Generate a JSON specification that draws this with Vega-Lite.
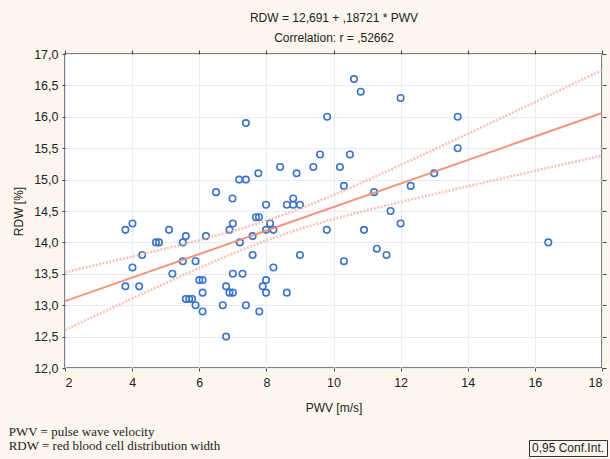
{
  "$schema": "https://vega.github.io/schema/vega-lite/v6.json",
  "width": 537,
  "height": 314,
  "autosize": "none",
  "padding": {"left": 65, "top": 54, "right": 8, "bottom": 91},
  "background": "#fdf6ee",
  "config": {
    "view": {"fill": "white", "stroke": "#505a64", "strokeWidth": 1.5},
    "font": "Liberation Sans",
    "axis": {"labelFont": "Liberation Sans", "titleFont": "Liberation Sans", "labelColor": "#222", "titleColor": "#222", "labelFontSize": 12, "titleFontSize": 12, "titleFontWeight": "normal", "tickColor": "#444", "domain": false}
  },
  "title": {
    "text": ["PWV = pulse wave velocity", "RDW = red blood cell distribution width"],
    "orient": "bottom", "anchor": "start", "frame": "bounds",
    "font": "Liberation Serif", "fontSize": 13, "fontWeight": "normal", "color": "#222",
    "lineHeight": 14, "offset": -31, "dx": -4
  },
  "datasets": {
    "pts": [
      {"pwv": 7.39, "rdw": 15.9}, {"pwv": 7.76, "rdw": 15.1}, {"pwv": 7.19, "rdw": 15.0}, {"pwv": 7.39, "rdw": 15.0},
      {"pwv": 6.5, "rdw": 14.8}, {"pwv": 6.99, "rdw": 14.7}, {"pwv": 3.8, "rdw": 14.2}, {"pwv": 4.01, "rdw": 14.3},
      {"pwv": 5.1, "rdw": 14.2}, {"pwv": 4.71, "rdw": 14.0}, {"pwv": 4.8, "rdw": 14.0}, {"pwv": 5.6, "rdw": 14.1},
      {"pwv": 5.51, "rdw": 14.0}, {"pwv": 6.2, "rdw": 14.1}, {"pwv": 6.9, "rdw": 14.2}, {"pwv": 7.0, "rdw": 14.3},
      {"pwv": 7.69, "rdw": 14.4}, {"pwv": 7.78, "rdw": 14.4}, {"pwv": 4.3, "rdw": 13.8}, {"pwv": 7.21, "rdw": 14.0},
      {"pwv": 7.59, "rdw": 14.1}, {"pwv": 7.59, "rdw": 13.8}, {"pwv": 4.01, "rdw": 13.6}, {"pwv": 5.51, "rdw": 13.7},
      {"pwv": 5.89, "rdw": 13.7}, {"pwv": 5.2, "rdw": 13.5}, {"pwv": 6.0, "rdw": 13.4}, {"pwv": 6.1, "rdw": 13.4},
      {"pwv": 7.0, "rdw": 13.5}, {"pwv": 7.29, "rdw": 13.5}, {"pwv": 3.8, "rdw": 13.3}, {"pwv": 4.21, "rdw": 13.3},
      {"pwv": 6.8, "rdw": 13.3}, {"pwv": 6.9, "rdw": 13.2}, {"pwv": 7.0, "rdw": 13.2}, {"pwv": 6.1, "rdw": 13.2},
      {"pwv": 5.6, "rdw": 13.1}, {"pwv": 5.7, "rdw": 13.1}, {"pwv": 5.79, "rdw": 13.1}, {"pwv": 5.89, "rdw": 13.0},
      {"pwv": 6.1, "rdw": 12.9}, {"pwv": 6.7, "rdw": 13.0}, {"pwv": 7.39, "rdw": 13.0}, {"pwv": 7.79, "rdw": 12.9},
      {"pwv": 6.8, "rdw": 12.5}, {"pwv": 10.61, "rdw": 16.6}, {"pwv": 10.81, "rdw": 16.4}, {"pwv": 12.0, "rdw": 16.3},
      {"pwv": 9.81, "rdw": 16.0}, {"pwv": 9.6, "rdw": 15.4}, {"pwv": 10.49, "rdw": 15.4}, {"pwv": 8.41, "rdw": 15.2},
      {"pwv": 9.4, "rdw": 15.2}, {"pwv": 10.19, "rdw": 15.2}, {"pwv": 8.9, "rdw": 15.1}, {"pwv": 13.0, "rdw": 15.1},
      {"pwv": 10.31, "rdw": 14.9}, {"pwv": 12.3, "rdw": 14.9}, {"pwv": 11.21, "rdw": 14.8}, {"pwv": 8.8, "rdw": 14.7},
      {"pwv": 7.99, "rdw": 14.6}, {"pwv": 8.61, "rdw": 14.6}, {"pwv": 8.8, "rdw": 14.6}, {"pwv": 9.0, "rdw": 14.6},
      {"pwv": 11.7, "rdw": 14.5}, {"pwv": 8.11, "rdw": 14.3}, {"pwv": 7.99, "rdw": 14.2}, {"pwv": 8.21, "rdw": 14.2},
      {"pwv": 9.8, "rdw": 14.2}, {"pwv": 10.91, "rdw": 14.2}, {"pwv": 12.0, "rdw": 14.3}, {"pwv": 11.29, "rdw": 13.9},
      {"pwv": 11.58, "rdw": 13.8}, {"pwv": 9.0, "rdw": 13.8}, {"pwv": 10.31, "rdw": 13.7}, {"pwv": 8.21, "rdw": 13.6},
      {"pwv": 7.99, "rdw": 13.4}, {"pwv": 7.89, "rdw": 13.3}, {"pwv": 7.99, "rdw": 13.2}, {"pwv": 8.61, "rdw": 13.2},
      {"pwv": 13.7, "rdw": 16.0}, {"pwv": 13.7, "rdw": 15.5}, {"pwv": 16.4, "rdw": 14.0}
    ],
    "fit": [{"pwv": 2, "rdw": 13.065}, {"pwv": 18, "rdw": 16.061}],
    "band": [
      {"pwv": 2, "rdw": 13.525, "bound": "upper"}, {"pwv": 3, "rdw": 13.649, "bound": "upper"},
      {"pwv": 4, "rdw": 13.774, "bound": "upper"}, {"pwv": 5, "rdw": 13.902, "bound": "upper"},
      {"pwv": 6, "rdw": 14.035, "bound": "upper"}, {"pwv": 7, "rdw": 14.179, "bound": "upper"},
      {"pwv": 8, "rdw": 14.344, "bound": "upper"}, {"pwv": 9, "rdw": 14.536, "bound": "upper"},
      {"pwv": 10, "rdw": 14.754, "bound": "upper"}, {"pwv": 11, "rdw": 14.988, "bound": "upper"},
      {"pwv": 12, "rdw": 15.232, "bound": "upper"}, {"pwv": 13, "rdw": 15.48, "bound": "upper"},
      {"pwv": 14, "rdw": 15.729, "bound": "upper"}, {"pwv": 15, "rdw": 15.981, "bound": "upper"},
      {"pwv": 16, "rdw": 16.233, "bound": "upper"}, {"pwv": 17, "rdw": 16.487, "bound": "upper"},
      {"pwv": 18, "rdw": 16.741, "bound": "upper"},
      {"pwv": 2, "rdw": 12.605, "bound": "lower"}, {"pwv": 3, "rdw": 12.857, "bound": "lower"},
      {"pwv": 4, "rdw": 13.106, "bound": "lower"}, {"pwv": 5, "rdw": 13.352, "bound": "lower"},
      {"pwv": 6, "rdw": 13.593, "bound": "lower"}, {"pwv": 7, "rdw": 13.823, "bound": "lower"},
      {"pwv": 8, "rdw": 14.034, "bound": "lower"}, {"pwv": 9, "rdw": 14.216, "bound": "lower"},
      {"pwv": 10, "rdw": 14.372, "bound": "lower"}, {"pwv": 11, "rdw": 14.512, "bound": "lower"},
      {"pwv": 12, "rdw": 14.644, "bound": "lower"}, {"pwv": 13, "rdw": 14.77, "bound": "lower"},
      {"pwv": 14, "rdw": 14.895, "bound": "lower"}, {"pwv": 15, "rdw": 15.017, "bound": "lower"},
      {"pwv": 16, "rdw": 15.139, "bound": "lower"}, {"pwv": 17, "rdw": 15.261, "bound": "lower"},
      {"pwv": 18, "rdw": 15.381, "bound": "lower"}
    ]
  },
  "layer": [
    {
      "data": {"name": "pts"},
      "mark": {"type": "point", "shape": "circle", "filled": false, "stroke": "#3d74c9", "strokeWidth": 1.6, "size": 42, "opacity": 1},
      "encoding": {
        "x": {"field": "pwv", "type": "quantitative", "scale": {"domain": [2, 18], "nice": false, "zero": false},
          "axis": {"orient": "bottom", "title": "PWV [m/s]", "values": [2, 4, 6, 8, 10, 12, 14, 16, 18], "grid": true, "gridColor": "#e4edf7", "gridWidth": 1, "tickSize": 3, "labelPadding": 5, "titlePadding": 14, "labelFontSize": 12.5}},
        "y": {"field": "rdw", "type": "quantitative", "scale": {"domain": [12, 17], "nice": false, "zero": false},
          "axis": {"orient": "left", "title": "RDW [%]", "values": [12, 12.5, 13, 13.5, 14, 14.5, 15, 15.5, 16, 16.5, 17], "grid": true, "gridColor": "#e4edf7", "gridWidth": 1, "tickSize": 3, "labelPadding": 4, "titlePadding": 8, "labelFontSize": 12.5, "labelExpr": "replace(format(datum.value, '.1f'), '.', ',')"}}
      }
    },
    {
      "data": {"name": "band"},
      "mark": {"type": "line", "strokeWidth": 2.6, "strokeDash": [2, 1.5], "opacity": 0.7},
      "encoding": {
        "x": {"field": "pwv", "type": "quantitative",
          "axis": {"orient": "top", "labels": false, "grid": false, "tickSize": 4, "title": ["RDW  = 12,691 + ,18721 * PWV", "Correlation: r = ,52662"], "titleLineHeight": 20, "titlePadding": 5, "values": [2, 4, 6, 8, 10, 12, 14, 16, 18]}},
        "y": {"field": "rdw", "type": "quantitative",
          "axis": {"orient": "right", "labels": false, "grid": false, "tickSize": 4, "title": null, "values": [12, 12.5, 13, 13.5, 14, 14.5, 15, 15.5, 16, 16.5, 17]}},
        "detail": {"field": "bound"},
        "color": {"datum": "0,95 Conf.Int.", "type": "nominal", "scale": {"domain": ["0,95 Conf.Int."], "range": ["#f9ab98"]},
          "legend": {"orient": "none", "legendX": 464, "legendY": 386, "title": null, "strokeColor": "#333", "padding": 2, "symbolType": "circle", "symbolSize": 0, "symbolOpacity": 0, "symbolStrokeWidth": 0, "labelOffset": -11, "labelFontSize": 12, "labelColor": "#222", "labelFont": "Liberation Sans"}}
      }
    },
    {
      "data": {"name": "fit"},
      "mark": {"type": "line", "stroke": "#f28a6e", "strokeWidth": 2, "opacity": 0.9},
      "encoding": {
        "x": {"field": "pwv", "type": "quantitative", "axis": null},
        "y": {"field": "rdw", "type": "quantitative", "axis": null}
      }
    }
  ],
  "resolve": {"axis": {"x": "independent", "y": "independent"}}
}
